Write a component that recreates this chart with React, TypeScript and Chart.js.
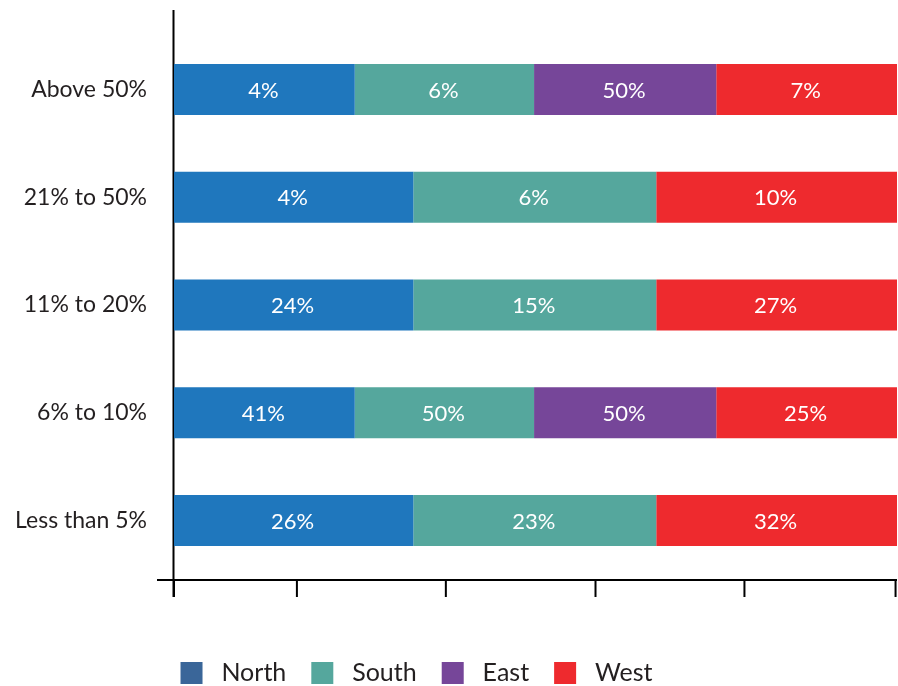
import React, { useEffect, useRef } from "react";
import { Chart, registerables } from "chart.js";

Chart.register(...registerables);

// ---- data ----
const categories = ["Above 50%", "21% to 50%", "11% to 20%", "6% to 10%", "Less than 5%"];
const seriesNames = ["North", "South", "East", "West"];

// share of each row's bar occupied by each segment
const northShare = [25, 33.1, 33.1, 25, 33.1];
const southShare = [24.8, 33.6, 33.6, 24.8, 33.6];
const eastShare = [25.2, null, null, 25.2, null];
const westShare = [25, 33.3, 33.3, 25, 33.3];

// printed labels on each segment
const northLabels = ["4%", "4%", "24%", "41%", "26%"];
const southLabels = ["6%", "6%", "15%", "50%", "23%"];
const eastLabels = ["50%", null, null, "50%", null];
const westLabels = ["7%", "10%", "27%", "25%", "32%"];

// x axis tick marks (no labels)
const xTickValues = [0, 17, 37.6, 58.3, 78.9, 99.8];

const barColors = ["#1f77bd", "#55a79d", "#764699", "#ee2a2e"];
const legendColors = ["#3a6699", "#55a79d", "#764699", "#ee2a2e"];

const shares = [northShare, southShare, eastShare, westShare];
const labelSets = [northLabels, southLabels, eastLabels, westLabels];

const FONT = "Lato";
const TEXT_COLOR = "#231f20";

const axisPlugin = {
  id: "axisLines",
  beforeDatasetsDraw(chart: any) {
    const { ctx, chartArea, scales } = chart;
    const xs = scales.x;
    const axisY = chartArea.bottom + 5.6;
    const tickLen = 17;
    ctx.save();
    ctx.strokeStyle = "#000";
    ctx.lineWidth = 2;
    ctx.beginPath();
    ctx.moveTo(chartArea.left - 0.5, chartArea.top - 25.6);
    ctx.lineTo(chartArea.left - 0.5, axisY + tickLen);
    ctx.moveTo(chartArea.left - 17, axisY);
    ctx.lineTo(chartArea.right, axisY);
    xTickValues.forEach((v) => {
      const px = xs.getPixelForValue(v);
      ctx.moveTo(px, axisY);
      ctx.lineTo(px, axisY + tickLen);
    });
    ctx.stroke();
    ctx.restore();
  },
};

const labelPlugin = {
  id: "segmentLabels",
  afterDatasetsDraw(chart: any) {
    const ctx = chart.ctx;
    ctx.save();
    ctx.fillStyle = "#ffffff";
    ctx.font = `22px ${FONT}`;
    ctx.textAlign = "center";
    ctx.textBaseline = "middle";
    chart.data.datasets.forEach((_ds: any, i: number) => {
      const meta = chart.getDatasetMeta(i);
      meta.data.forEach((el: any, j: number) => {
        const t = labelSets[i][j];
        if (!t) return;
        const p = el.getCenterPoint();
        ctx.fillText(t, p.x - 1, p.y + 1);
      });
    });
    ctx.restore();
  },
};

export default function App() {
  const canvasRef = useRef<HTMLCanvasElement | null>(null);

  useEffect(() => {
    if (!canvasRef.current) return;
    const chart = new Chart(canvasRef.current, {
      type: "bar",
      data: {
        labels: categories,
        datasets: seriesNames.map((name, i) => ({
          label: name,
          data: shares[i],
          backgroundColor: barColors[i],
          borderWidth: 0,
          barPercentage: 0.473,
          categoryPercentage: 1,
        })),
      },
      options: {
        indexAxis: "y",
        responsive: false,
        animation: false,
        events: [],
        layout: { padding: { top: 35.6, left: -64, right: 1, bottom: -9.5 } },
        scales: {
          x: {
            type: "linear",
            min: 0,
            max: 100,
            stacked: true,
            display: true,
            grid: { display: false, drawTicks: false },
            border: { display: false },
            ticks: { display: false },
            afterFit: (s: any) => {
              s.height = 61.1;
            },
          },
          y: {
            type: "category",
            stacked: true,
            grid: {
              display: true,
              drawOnChartArea: false,
              drawTicks: true,
              tickLength: 27,
              color: "rgba(0,0,0,0)",
            },
            border: { display: false },
            ticks: {
              padding: 0,
              color: TEXT_COLOR,
              font: { family: FONT, size: 23 },
            },
            afterFit: (s: any) => {
              s.width = 238;
            },
          },
        },
        plugins: {
          tooltip: { enabled: false },
          legend: {
            position: "bottom",
            align: "center",
            labels: {
              boxWidth: 22,
              boxHeight: 22,
              padding: 25,
              color: TEXT_COLOR,
              font: { family: FONT, size: 25 },
              generateLabels: () =>
                seriesNames.map((n, i) => ({
                  text: " " + n,
                  fillStyle: legendColors[i],
                  strokeStyle: legendColors[i],
                  lineWidth: 0,
                  hidden: false,
                  datasetIndex: i,
                  fontColor: TEXT_COLOR,
                })),
            },
          },
        },
      },
      plugins: [axisPlugin, labelPlugin],
    } as any);
    return () => chart.destroy();
  }, []);

  return (
    <div style={{ position: "absolute", left: 0, top: 0, width: 898, height: 686, background: "#fff" }}>
      <canvas ref={canvasRef} width={898} height={686} style={{ display: "block" }} />
    </div>
  );
}
